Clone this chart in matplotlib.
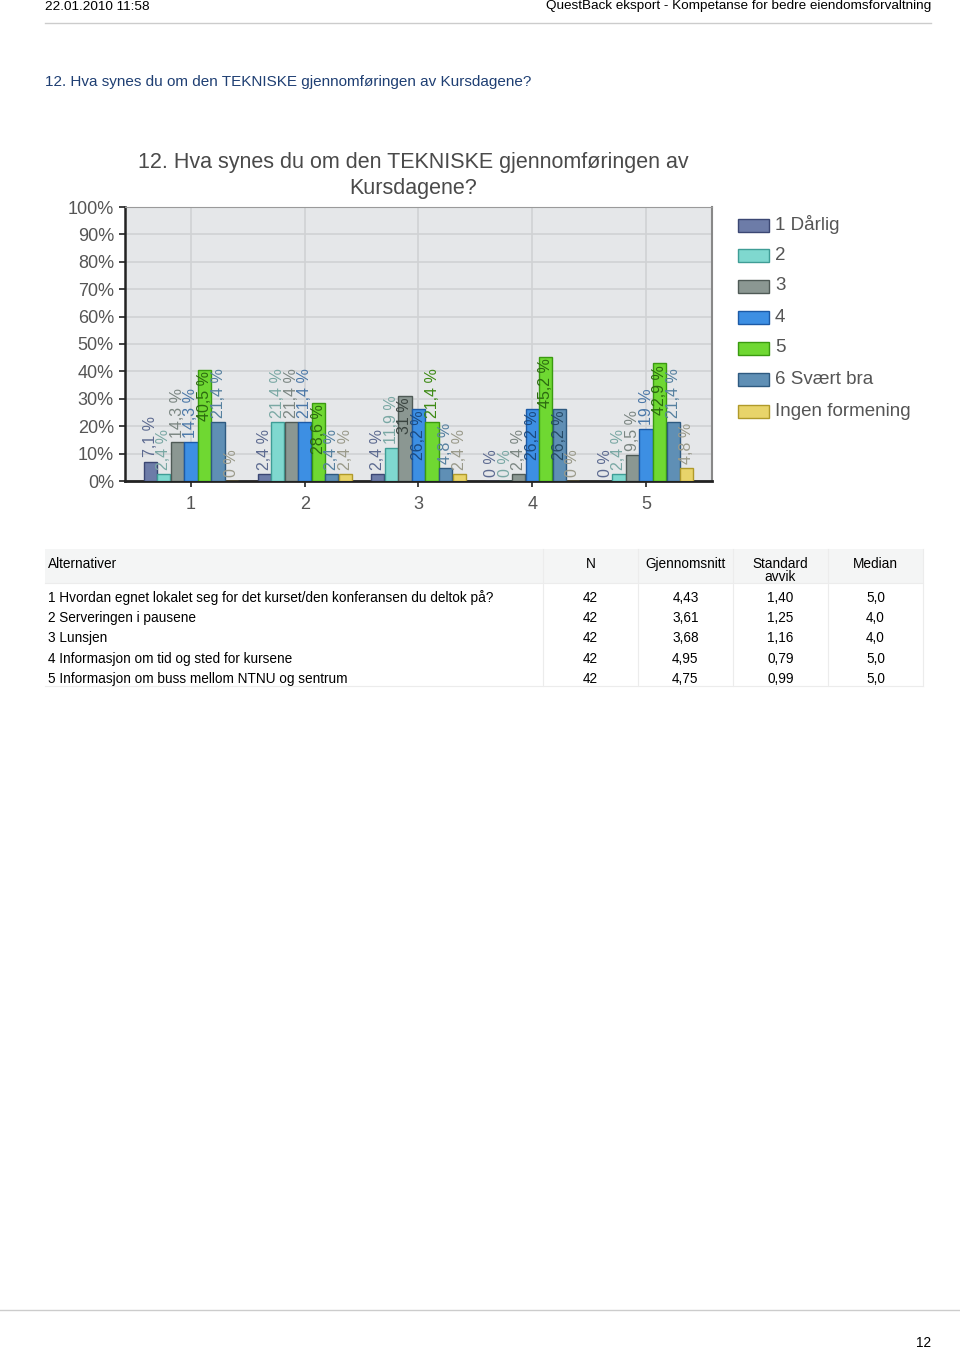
import matplotlib

matplotlib.use("Agg")
import matplotlib.pyplot as plt
import numpy as np

plt.rcParams["font.family"] = ["Liberation Sans", "DejaVu Sans"]

# --- data -----------------------------------------------------------------
groups = ["1", "2", "3", "4", "5"]
series_names = ["1 Dårlig", "2", "3", "4", "5", "6 Svært bra", "Ingen formening"]
pct_dårlig = [7.1, 2.4, 2.4, 0.0, 0.0]
pct_2 = [2.4, 21.4, 11.9, 0.0, 2.4]
pct_3 = [14.3, 21.4, 31.0, 2.4, 9.5]
pct_4 = [14.3, 21.4, 26.2, 26.2, 19.0]
pct_5 = [40.5, 28.6, 21.4, 45.2, 42.9]
pct_6 = [21.4, 2.4, 4.8, 26.2, 21.4]
pct_ingen = [0.0, 2.4, 2.4, 0.0, 4.8]
series_values = [pct_dårlig, pct_2, pct_3, pct_4, pct_5, pct_6, pct_ingen]

alternatives = [
    "1 Hvordan egnet lokalet seg for det kurset/den konferansen du deltok på?",
    "2 Serveringen i pausene",
    "3 Lunsjen",
    "4 Informasjon om tid og sted for kursene",
    "5 Informasjon om buss mellom NTNU og sentrum",
]
n_answers = ["42", "42", "42", "42", "42"]
means = ["4,43", "3,61", "3,68", "4,95", "4,75"]
std_devs = ["1,40", "1,25", "1,16", "0,79", "0,99"]
medians = ["5,0", "4,0", "4,0", "5,0", "5,0"]

FACE = ["#6d7ca8", "#7fd8cf", "#8b9792", "#3d8fe3", "#6fd832", "#5f8fb5", "#e8d46a"]
EDGE = ["#3b4773", "#3f9d96", "#4f5a56", "#1c5aa6", "#3a9a10", "#2e5a80", "#b09a2a"]
LABEL = ["#5c6a90", "#7aa8a4", "#7b8682", "#4b78a8", "#3d8a14", "#55809f", "#9a9a8a"]
INSIDE = ["#2f3a60", "#2f6f6a", "#3a4440", "#1b4a80", "#2c6a10", "#264a66", "#7a6a20"]
TEXT_GRAY = "#555555"


def fmt_pct(v):
    if float(v).is_integer():
        return f"{int(v)} %"
    return f"{v:.1f} %".replace(".", ",")


W, H = 960, 1351
fig = plt.figure(figsize=(W / 100, H / 100), dpi=100)

# page-level layer in pixel coordinates
page = fig.add_axes([0, 0, 1, 1])
page.set_xlim(0, W)
page.set_ylim(H, 0)
page.axis("off")

page.text(45, 6.5, "22.01.2010 11:58", fontsize=9.7, va="center", ha="left")
page.text(931, 6.5, "QuestBack eksport - Kompetanse for bedre eiendomsforvaltning",
          fontsize=9.7, va="center", ha="right")
page.plot([45, 931], [23, 23], color="#cccccc", lw=1)
page.text(45, 82, "12. Hva synes du om den TEKNISKE gjennomføringen av Kursdagene?",
          fontsize=11, va="center", ha="left", color="#1f3f73")

# chart title
page.text(413, 175.5, "12. Hva synes du om den TEKNISKE gjennomføringen av\nKursdagene?",
          fontsize=15.5, va="center", ha="center", color="#4a4a4a", linespacing=1.35)

# --- bar chart ------------------------------------------------------------
ax = fig.add_axes([125 / W, 1 - 481 / H, (712 - 125) / W, (481 - 207) / H])
ax.set_facecolor("#e5e7e9")
x = np.arange(1, len(groups) + 1)
n_series = len(series_values)
bw = 0.119
for i, vals in enumerate(series_values):
    offs = (i - (n_series - 1) / 2) * bw
    ax.bar(x + offs, vals, width=bw * 0.97, color=FACE[i], edgecolor=EDGE[i],
           linewidth=1.0, zorder=3)
    for xi, v in zip(x + offs, vals):
        lab = fmt_pct(v)
        if v > 25:
            ax.text(xi, v - 0.5, lab, rotation=90, ha="center", va="top",
                    fontsize=11.5, color=INSIDE[i], zorder=4)
        else:
            ax.text(xi, v + 1.5, lab, rotation=90, ha="center", va="bottom",
                    fontsize=11.5, color=LABEL[i], zorder=4)

ax.set_xlim(0.42, 5.58)
ax.set_ylim(0, 100)
ax.set_yticks(np.arange(0, 101, 10))
ax.set_yticklabels([f"{t}%" for t in range(0, 101, 10)], fontsize=13, color=TEXT_GRAY)
ax.set_xticks(x)
ax.set_xticklabels(groups, fontsize=13, color=TEXT_GRAY)
ax.tick_params(axis="y", length=4, width=1.2, color="#222222", pad=4)
ax.tick_params(axis="x", length=4, width=1.2, color="#222222", pad=7)
ax.grid(True, color="#d0d2d4", lw=1.2, zorder=0)
ax.set_axisbelow(True)
ax.spines["left"].set_color("#222222")
ax.spines["left"].set_linewidth(1.8)
ax.spines["bottom"].set_color("#222222")
ax.spines["bottom"].set_linewidth(2.0)
ax.spines["top"].set_color("#9a9a9a")
ax.spines["right"].set_color("#888888")
ax.spines["right"].set_linewidth(1.5)

# legend
leg_y = [225, 255, 286, 317, 348, 379, 411]
for i, name in enumerate(series_names):
    y = leg_y[i]
    page.add_patch(plt.Rectangle((738, y - 6.5), 31, 13, facecolor=FACE[i],
                                 edgecolor=EDGE[i], lw=1.0))
    page.text(775, y, name, fontsize=13.5, va="center", ha="left", color=TEXT_GRAY)

# --- table ----------------------------------------------------------------
col_edges = [45, 543, 638, 733, 828, 923]
page.add_patch(plt.Rectangle((45, 549), 878, 34, facecolor="#f4f5f5",
                             edgecolor="none"))
for xe in col_edges[1:-1]:
    page.plot([xe, xe], [549, 686], color="#ececec", lw=0.8)
page.plot([45, 923], [583, 583], color="#ececec", lw=0.8)
page.plot([45, 923], [686, 686], color="#ececec", lw=0.8)
page.plot([923, 923], [549, 686], color="#ececec", lw=0.8)

FS = 9.8
page.text(48, 564, "Alternativer", fontsize=FS, va="center", ha="left")
headers = ["N", "Gjennomsnitt", "Standard\navvik", "Median"]
for j, h in enumerate(headers):
    cx = (col_edges[j + 1] + col_edges[j + 2]) / 2
    if "\n" in h:
        page.text(cx, 570.5, h, fontsize=FS, va="center", ha="center", linespacing=0.95)
    else:
        page.text(cx, 564, h, fontsize=FS, va="center", ha="center")

row_y = [598, 618, 638, 659, 679]
for r, y in enumerate(row_y):
    page.text(48, y, alternatives[r], fontsize=FS, va="center", ha="left")
    for j, vals in enumerate([n_answers, means, std_devs, medians]):
        cx = (col_edges[j + 1] + col_edges[j + 2]) / 2
        page.text(cx, y, vals[r], fontsize=FS, va="center", ha="center")

# footer
page.plot([0, 960], [1310, 1310], color="#cccccc", lw=1)
page.text(931, 1343, "12", fontsize=FS, va="center", ha="right")

fig.savefig("out.png", dpi=100)
plt.close(fig)
